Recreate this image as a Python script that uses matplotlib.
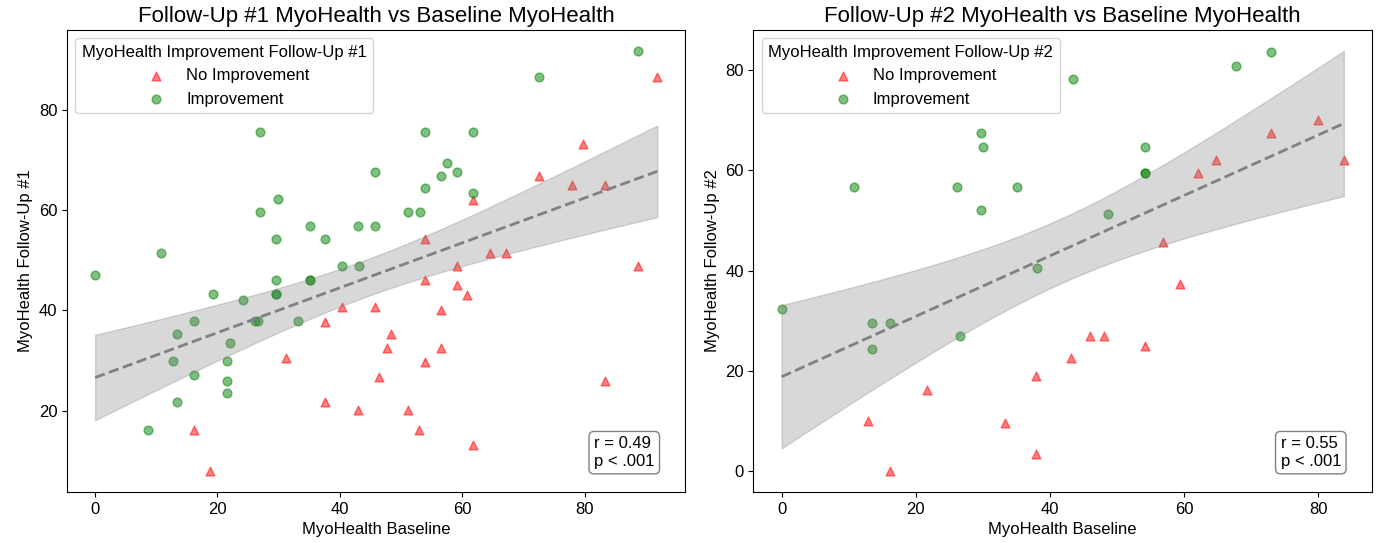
import numpy as np
import matplotlib.pyplot as plt

plt.rcParams['font.family'] = ['Liberation Sans', 'DejaVu Sans']

# Follow-up #1
fu1_noimp_x = [91.9, 79.7, 72.6, 78.0, 83.3, 61.8, 53.9, 64.6, 67.2, 59.2, 88.7, 53.9, 59.2, 60.8,
               45.8, 56.5, 48.3, 47.7, 56.5, 53.9, 46.4, 83.3, 51.1, 53.0, 61.8, 40.4, 37.6, 31.2,
               37.6, 43.0, 16.2, 18.8]
fu1_noimp_y = [86.4, 73.2, 66.7, 65.0, 65.0, 62.0, 54.2, 51.4, 51.4, 48.8, 48.8, 46.1, 45.1, 43.1,
               40.6, 40.0, 35.2, 32.5, 32.5, 29.8, 26.7, 26.0, 20.1, 16.1, 13.1, 40.6, 37.7, 30.5,
               21.7, 20.1, 16.1, 8.0]
fu1_imp_x = [26.9, 45.7, 29.9, 26.9, 35.1, 43.0, 45.7, 29.5, 37.6, 10.8, 40.4, 43.1, 0.0, 88.7,
             72.6, 53.9, 61.8, 57.6, 59.2, 56.5, 53.9, 61.8, 51.1, 53.1, 29.5, 35.1, 35.1, 19.3,
             29.5, 29.5, 24.2, 16.2, 26.1, 26.6, 33.1, 13.4, 22.1, 12.8, 21.6, 16.2, 21.6, 21.6,
             13.4, 8.6]
fu1_imp_y = [75.6, 67.5, 62.1, 59.6, 56.8, 56.8, 56.8, 54.2, 54.2, 51.4, 48.9, 48.9, 47.0, 91.7,
             86.4, 75.6, 75.6, 69.3, 67.5, 66.7, 64.3, 63.4, 59.6, 59.6, 46.0, 46.0, 46.0, 43.2,
             43.2, 43.2, 42.0, 37.8, 37.8, 37.8, 37.8, 35.3, 33.5, 29.9, 29.9, 27.1, 25.9, 23.5,
             21.7, 16.1]

# Follow-up #2
fu2_noimp_x = [80.0, 73.0, 83.8, 64.8, 62.1, 56.8, 59.4, 45.9, 48.0, 54.1, 43.2, 21.6, 37.9,
               12.9, 33.3, 37.9, 16.2]
fu2_noimp_y = [70.1, 67.4, 62.1, 62.1, 59.4, 45.8, 37.4, 27.0, 27.0, 25.0, 22.6, 16.2, 19.0,
               10.0, 9.6, 3.3, 0.0]
fu2_imp_x = [29.7, 30.0, 10.8, 26.2, 35.1, 29.7, 38.0, 43.4, 67.7, 73.0, 54.1, 54.1, 54.1, 48.6,
             0.0, 13.5, 16.2, 13.5, 26.6]
fu2_imp_y = [67.5, 64.7, 56.6, 56.6, 56.6, 52.0, 40.5, 78.3, 80.9, 83.7, 64.7, 59.4, 59.4, 51.3,
             32.4, 29.6, 29.6, 24.4, 27.0]

stats_text = ['r = 0.49\np < .001', 'r = 0.55\np < .001']


def fit_band(x, y, n_grid=100):
    '''OLS line with a 95% confidence band'''
    x = np.asarray(x)
    y = np.asarray(y)
    n = len(x)
    slope, intercept = np.polyfit(x, y, 1)
    grid = np.linspace(x.min(), x.max(), n_grid)
    fit = intercept + slope * grid
    resid = y - (intercept + slope * x)
    s = np.sqrt(np.sum(resid ** 2) / (n - 2))
    sxx = np.sum((x - x.mean()) ** 2)
    se = s * np.sqrt(1 / n + (grid - x.mean()) ** 2 / sxx)
    return grid, fit, fit - 1.99 * se, fit + 1.99 * se


def draw_panel(ax, nx, ny, ix, iy, num, txt):
    ax.scatter(nx, ny, marker='^', color='red', alpha=0.5, s=40, label='No Improvement')
    ax.scatter(ix, iy, marker='o', color='green', alpha=0.5, s=40, label='Improvement')

    all_x = np.concatenate([nx, ix])
    all_y = np.concatenate([ny, iy])
    grid, fit, lo, hi = fit_band(all_x, all_y)
    ax.plot(grid, fit, color='gray', linestyle='--', linewidth=2)
    ax.fill_between(grid, lo, hi, color='gray', alpha=0.3)

    ax.set_title(f'Follow-Up #{num} MyoHealth vs Baseline MyoHealth', fontsize=16)
    ax.set_xlabel('MyoHealth Baseline', fontsize=12)
    ax.set_ylabel(f'MyoHealth Follow-Up #{num}', fontsize=12)
    ax.tick_params(labelsize=12)
    ax.legend(title=f'MyoHealth Improvement Follow-Up #{num}', loc='upper left',
              fontsize=12, title_fontsize=12)
    ax.text(0.95, 0.05, txt, transform=ax.transAxes, ha='right', va='bottom', fontsize=12,
            multialignment='left',
            bbox=dict(boxstyle='round', facecolor='white', edgecolor='gray'))


fig, axes = plt.subplots(1, 2, figsize=(13.84, 5.43), dpi=100)
draw_panel(axes[0], fu1_noimp_x, fu1_noimp_y, fu1_imp_x, fu1_imp_y, 1, stats_text[0])
draw_panel(axes[1], fu2_noimp_x, fu2_noimp_y, fu2_imp_x, fu2_imp_y, 2, stats_text[1])

plt.subplots_adjust(left=0.0484, right=0.9913, bottom=0.094, top=0.945, wspace=0.11)
plt.savefig('out.png')
